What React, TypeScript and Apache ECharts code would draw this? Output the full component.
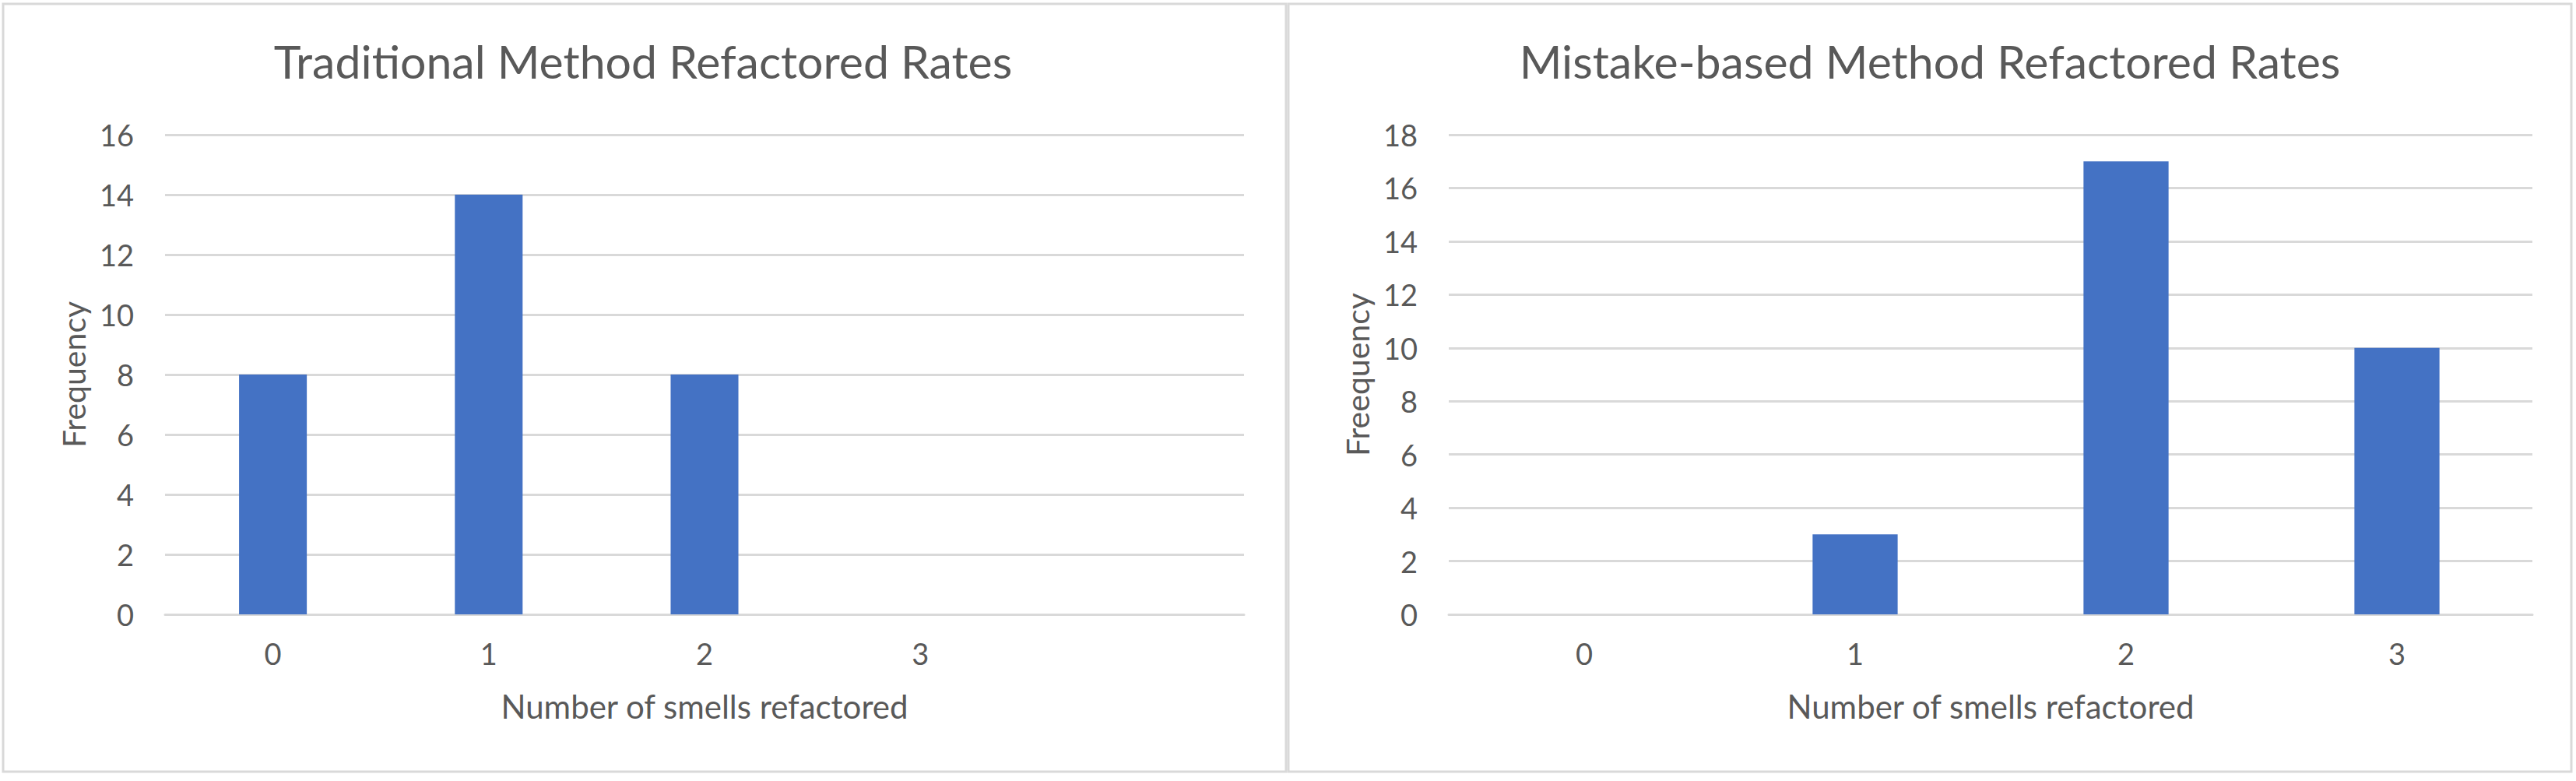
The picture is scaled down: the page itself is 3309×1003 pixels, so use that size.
import React, { useEffect, useRef } from "react";
import * as echarts from "echarts";

// ---- data ----
const leftTitle = "Traditional Method Refactored Rates";
const rightTitle = "Mistake-based Method Refactored Rates";
const leftCategories = ["0", "1", "2", "3", ""];
const leftValues: (number | null)[] = [8, 14, 8, 0, null];
const rightCategories = ["0", "1", "2", "3"];
const rightValues = [0, 3, 17, 10];
const leftYName = "Frequency";
const rightYName = "Freequency";
const xAxisName = "Number of smells refactored";
const leftYMax = 16;
const rightYMax = 18;
const yStep = 2;

const FONT = "Lato, 'Open Sans', sans-serif";
const TEXT = "#595959";
const GRID_LINE = "#D9D9D9";
const BAR = "#4472C4";

function xAxisFor(gridIndex: number, data: string[]) {
  return {
    type: "category",
    gridIndex,
    data,
    axisTick: { show: false },
    axisLine: { show: true, lineStyle: { color: GRID_LINE, width: 3 } },
    axisLabel: { color: TEXT, fontSize: 38, fontFamily: FONT, margin: 31 },
    name: xAxisName,
    nameLocation: "middle",
    nameGap: 97,
    nameTextStyle: { color: TEXT, fontSize: 42, fontFamily: FONT },
  };
}

function yAxisFor(gridIndex: number, max: number, name: string) {
  return {
    type: "value",
    gridIndex,
    min: 0,
    max,
    interval: yStep,
    axisLine: { show: false },
    axisTick: { show: false },
    splitLine: { show: true, lineStyle: { color: GRID_LINE, width: 3 } },
    axisLabel: { color: TEXT, fontSize: 38, fontFamily: FONT, margin: 40 },
    name,
    nameLocation: "middle",
    nameGap: 97,
    nameTextStyle: { color: TEXT, fontSize: 41, fontFamily: FONT },
  };
}

export default function App() {
  const ref = useRef<HTMLDivElement>(null);
  useEffect(() => {
    document.body.style.margin = "0";
    if (!ref.current) return;
    const chart = echarts.init(ref.current, undefined, { renderer: "svg" });
    chart.setOption({
      animation: false,
      backgroundColor: "#ffffff",
      title: [
        {
          text: leftTitle,
          left: 826,
          top: 49,
          padding: 0,
          textAlign: "center",
          textStyle: { color: TEXT, fontSize: 59, fontWeight: "normal", fontFamily: FONT },
        },
        {
          text: rightTitle,
          left: 2479,
          top: 49,
          padding: 0,
          textAlign: "center",
          textStyle: { color: TEXT, fontSize: 59, fontWeight: "normal", fontFamily: FONT },
        },
      ],
      graphic: [
        {
          type: "rect",
          shape: { x: 4, y: 5, width: 1648, height: 986 },
          style: { fill: "none", stroke: GRID_LINE, lineWidth: 3 },
          silent: true,
        },
        {
          type: "rect",
          shape: { x: 1655, y: 5, width: 1648, height: 986 },
          style: { fill: "none", stroke: GRID_LINE, lineWidth: 3 },
          silent: true,
        },
      ],
      grid: [
        { left: 212, top: 173, width: 1386, height: 616 },
        { left: 1861, top: 173, width: 1392, height: 616 },
      ],
      xAxis: [xAxisFor(0, leftCategories), xAxisFor(1, rightCategories)],
      yAxis: [yAxisFor(0, leftYMax, leftYName), yAxisFor(1, rightYMax, rightYName)],
      series: [
        {
          type: "bar",
          xAxisIndex: 0,
          yAxisIndex: 0,
          data: leftValues,
          barWidth: "31.4%",
          itemStyle: { color: BAR },
        },
        {
          type: "bar",
          xAxisIndex: 1,
          yAxisIndex: 1,
          data: rightValues,
          barWidth: "31.4%",
          itemStyle: { color: BAR },
        },
      ],
    });
    return () => chart.dispose();
  }, []);
  return (
    <div
      ref={ref}
      style={{ position: "absolute", left: 0, top: 0, width: 3309, height: 1003, background: "#fff" }}
    />
  );
}
